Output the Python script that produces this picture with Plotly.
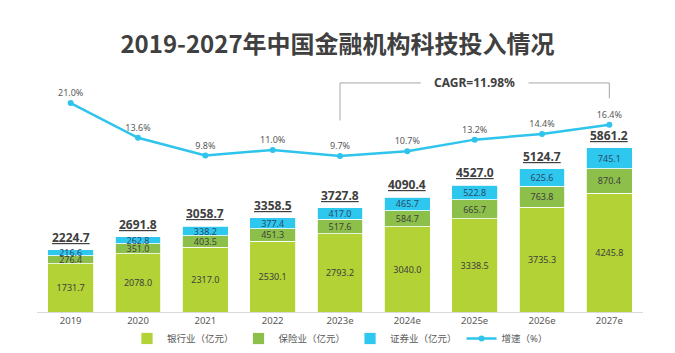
import plotly.graph_objects as go

years = ["2019", "2020", "2021", "2022", "2023e", "2024e", "2025e", "2026e", "2027e"]
bank = [1731.7, 2078.0, 2317.0, 2530.1, 2793.2, 3040.0, 3338.5, 3735.3, 4245.8]
insurance = [276.4, 351.0, 403.5, 451.3, 517.6, 584.7, 665.7, 763.8, 870.4]
securities = [216.6, 262.8, 338.2, 377.4, 417.0, 465.7, 522.8, 625.6, 745.1]
totals = [2224.7, 2691.8, 3058.7, 3358.5, 3727.8, 4090.4, 4527.0, 5124.7, 5861.2]
growth = [21.0, 13.6, 9.8, 11.0, 9.7, 10.7, 13.2, 14.4, 16.4]
cagr_text = "CAGR=11.98%"

xs = list(range(len(years)))

FONT = "Noto Sans, Noto Sans CJK SC, sans-serif"
C_BANK = "#B2D235"
C_INS = "#8DC04A"
C_SEC = "#2EC7EE"
C_LINE = "#2EC4EC"

fig = go.Figure()
fig.add_trace(go.Bar(x=xs, y=bank, name="银行业（亿元）", marker=dict(color=C_BANK, line=dict(color="white", width=0.8)),
                     text=[f"{v:.1f}" for v in bank], textposition="inside", insidetextanchor="middle",
                     textfont=dict(size=9, color="#404040")))
fig.add_trace(go.Bar(x=xs, y=insurance, name="保险业（亿元）", marker=dict(color=C_INS, line=dict(color="white", width=0.8)),
                     text=[f"{v:.1f}" for v in insurance], textposition="inside", insidetextanchor="middle",
                     textfont=dict(size=9, color="#404040")))
fig.add_trace(go.Bar(x=xs, y=securities, name="证券业（亿元）", marker=dict(color=C_SEC, line=dict(color="white", width=0.8)),
                     text=[f"{v:.1f}" for v in securities], textposition="inside", insidetextanchor="middle",
                     textfont=dict(size=9, color="#2B4A6B")))
fig.add_trace(go.Scatter(x=xs, y=growth, name="增速（%）", yaxis="y2", mode="lines+markers+text",
                         line=dict(color=C_LINE, width=2.5), marker=dict(size=6, color=C_LINE),
                         text=[f"{v:.1f}%" for v in growth], textposition="top center",
                         textfont=dict(size=9, color="#595959")))

for xi, t in zip(xs, totals):
    fig.add_annotation(x=xi, y=t, xref="x", yref="y", text=f'<span style="text-decoration:underline"><b>{t:.1f}</b></span>',
                       showarrow=False, yanchor="bottom", yshift=2, font=dict(size=12, color="#404040", family=FONT))

# CAGR bracket
i0, i1 = 4, 8
bracket_y = 25.3
gc = "#A6A6A6"
fig.add_shape(type="line", xref="x", yref="y2", x0=i0, x1=i0, y0=17.3, y1=bracket_y, line=dict(color=gc, width=1))
fig.add_shape(type="line", xref="x", yref="y2", x0=i0, x1=i0 + 1.2, y0=bracket_y, y1=bracket_y, line=dict(color=gc, width=1))
fig.add_shape(type="line", xref="x", yref="y2", x0=i0 + 2.8, x1=i1, y0=bracket_y, y1=bracket_y, line=dict(color=gc, width=1))
fig.add_shape(type="line", xref="x", yref="y2", x0=i1, x1=i1, y0=bracket_y, y1=22.0, line=dict(color=gc, width=1))
fig.add_annotation(x=(i0 + i1) / 2, y=bracket_y, xref="x", yref="y2", text=f"<b>{cagr_text}</b>", showarrow=False,
                   font=dict(size=12, color="#404040", family=FONT))

fig.update_layout(
    width=675, height=353,
    margin=dict(l=37, r=32, t=60, b=41, autoexpand=False),
    paper_bgcolor="white", plot_bgcolor="white",
    font=dict(family=FONT, color="#595959"),
    title=dict(text="<b>2019-2027年中国金融机构科技投入情况</b>", x=0.5, xanchor="center", y=0.875, yanchor="middle",
               font=dict(size=24, color="#404040", family="Noto Sans CJK SC, sans-serif")),
    barmode="stack", bargap=0.32,
    uniformtext=dict(minsize=9, mode="show"),
    xaxis=dict(range=[-0.5, len(years) - 0.5], tickmode="array", tickvals=xs, ticktext=years,
               showline=True, linecolor="#D9D9D9", linewidth=1, ticks="", zeroline=False,
               tickfont=dict(size=9.5, color="#595959"), showgrid=False),
    yaxis=dict(range=[0, 9000], visible=False, showgrid=False),
    yaxis2=dict(range=[-23.6, 30.2], overlaying="y", visible=False, showgrid=False),
    showlegend=True,
    legend=dict(orientation="h", x=0.5, xanchor="center", yref="container", y=0.0, yanchor="bottom",
                traceorder="normal", font=dict(size=9.5, color="#595959"), itemwidth=30),
)

fig.write_html("out.html")
